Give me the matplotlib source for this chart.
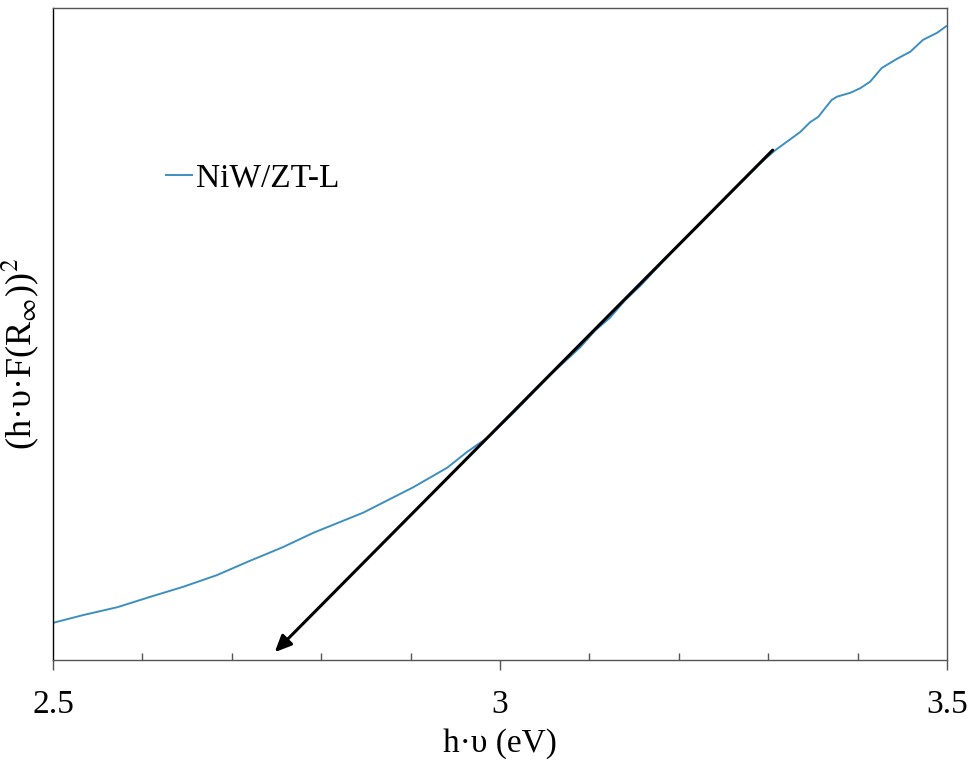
import matplotlib.pyplot as plt
from matplotlib.ticker import MultipleLocator

plt.rcParams['font.family'] = ['Liberation Serif', 'DejaVu Serif']
plt.rcParams['mathtext.fontset'] = 'stix'

# photon energy (eV) and Kubelka-Munk value (arbitrary units)
energy = [2.500, 2.534, 2.572, 2.609, 2.645, 2.683, 2.720, 2.757, 2.791,
          2.847, 2.903, 2.941, 2.963, 2.986, 3.015, 3.056, 3.090, 3.106,
          3.123, 3.140, 3.157, 3.190, 3.224, 3.257, 3.291, 3.308, 3.321,
          3.336, 3.347, 3.356, 3.364, 3.371, 3.377, 3.392, 3.403, 3.414,
          3.427, 3.444, 3.459, 3.473, 3.489, 3.499]
signal = [0.057, 0.069, 0.081, 0.097, 0.112, 0.130, 0.152, 0.173, 0.195,
          0.226, 0.265, 0.295, 0.319, 0.341, 0.379, 0.437, 0.480, 0.505,
          0.525, 0.552, 0.574, 0.623, 0.669, 0.716, 0.762, 0.782, 0.795,
          0.810, 0.825, 0.833, 0.847, 0.859, 0.864, 0.870, 0.877, 0.887,
          0.908, 0.922, 0.933, 0.951, 0.962, 0.972]

# tangent used for the band gap extrapolation
tangent_start = (3.305, 0.782)
tangent_end = (2.748, 0.012)

fig = plt.figure(figsize=(9.71, 7.61), dpi=100)
ax = fig.add_axes([0.0546, 0.1327, 0.9207, 0.8568])

ax.plot(energy, signal, color='#3d8fc2', lw=1.4, label='NiW/ZT-L')
ax.annotate('', xy=tangent_end, xytext=tangent_start,
            arrowprops=dict(arrowstyle='-|>,head_length=1.0,head_width=0.45',
                            color='black', lw=2.2, shrinkA=0, shrinkB=0))

ax.set_xlim(2.5, 3.5)
ax.set_ylim(0, 1)
ax.xaxis.set_minor_locator(MultipleLocator(0.1))
ax.set_xticks([2.5, 3, 3.5])
ax.set_xticklabels(['2.5', '3', '3.5'])
ax.set_yticks([])
ax.tick_params(axis='x', which='major', direction='out', length=7,
               width=1, color='#555555', labelsize=24, pad=14)
ax.tick_params(axis='x', which='minor', direction='in', length=5,
               width=1, color='#555555')
for s in ax.spines.values():
    s.set_color('#555555')
    s.set_linewidth(1)
ax.spines['left'].set_color('black')

ax.set_xlabel('h·υ (eV)', fontsize=24, labelpad=6)
ax.set_ylabel(r'(h·υ·F(R$_{\infty}$))$^{2}$', fontsize=26)
ax.yaxis.set_label_coords(-0.013, 0.47)

ax.legend(loc='upper left', bbox_to_anchor=(0.126, 0.762), frameon=False,
          fontsize=24, handlelength=0.8, handletextpad=0.1,
          borderpad=0, borderaxespad=0)

fig.savefig('out.png', dpi=100)
